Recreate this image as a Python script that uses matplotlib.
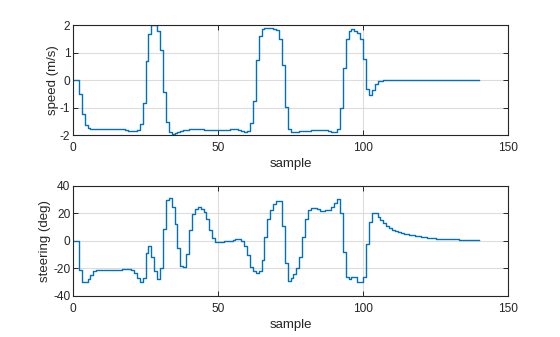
import numpy as np
import matplotlib
matplotlib.use('Agg')
import matplotlib.pyplot as plt

# speed (m/s), one value per sample 0..140
speed = [0, 0, -0.5, -1.25, -1.64, -1.76, -1.79, -1.79, -1.79, -1.79,          # 0-9
         -1.79, -1.79, -1.79, -1.79, -1.79, -1.79, -1.79, -1.79, -1.83, -1.85,  # 10-19
         -1.87, -1.87, -1.83, -1.6, -0.85, 0.68, 1.66, 2.0, 2.0, 1.8,           # 20-29
         1.09, -0.45, -1.54, -1.9, -1.96, -1.92, -1.88, -1.84, -1.82, -1.8,     # 30-39
         -1.79, -1.79, -1.79, -1.79, -1.79, -1.83, -1.83, -1.8, -1.8, -1.8,     # 40-49
         -1.8, -1.8, -1.8, -1.8, -1.79, -1.79, -1.79, -1.81, -1.85, -1.88,      # 50-59
         -1.85, -1.58, -0.75, 0.73, 1.6, 1.85, 1.88, 1.88, 1.88, 1.86,         # 60-69
         1.82, 1.49, 0.53, -0.98, -1.77, -1.9, -1.9, -1.9, -1.87, -1.85,       # 70-79
         -1.87, -1.87, -1.83, -1.83, -1.83, -1.83, -1.83, -1.83, -1.87, -1.9,  # 80-89
         -1.9, -1.77, -1.03, 0.45, 1.48, 1.8, 1.85, 1.8, 1.7, 1.5,             # 90-99
         0.76, -0.33, -0.56, -0.36, -0.16, -0.05, -0.02, -0.01, -0.01, -0.01,  # 100-109
         0, 0, 0, 0, 0, 0, 0, 0, 0, 0,                                          # 110-119
         0, 0, 0, 0, 0, 0, 0, 0, 0, 0,                                          # 120-129
         0, 0, 0, 0, 0, 0, 0, 0, 0, 0, 0]                                       # 130-140

# steering (deg)
steering = [0, 0, -21, -30, -30, -28, -24.5, -22, -21, -21,                    # 0-9
            -21, -21, -21, -21, -21, -21, -21, -20.5, -20.5, -20.5,            # 10-19
            -21, -23.5, -27, -30, -27, -9, -4, -12, -22, -28,                  # 20-29
            -20, 9, 30, 31, 24.5, 12, -5, -18, -19, -9.5,                      # 30-39
            8, 19.4, 23.5, 24.5, 23.3, 21.3, 15.8, 8, 2, -0.5,                 # 40-49
            -0.5, -0.5, 0, 0, 0, 0.5, 1.2, 1.2, 0, -3.4,                       # 50-59
            -10, -19, -22, -23.5, -22, -14, 2.7, 15.8, 22.3, 26.7,             # 60-69
            29.3, 28.8, 11, -16, -29, -27, -24, -19.6, -12, 2.7,               # 70-79
            15.8, 22.5, 23.8, 23.8, 23, 22, 22, 22.5, 22.5, 24.5,              # 80-89
            27.4, 30.3, 20, -7.8, -26.4, -27.4, -26, -26.4, -30, -30,          # 90-99
            -26, -2.4, 14, 20, 20, 17.7, 15.3, 13, 11, 9.2,                    # 100-109
            8.2, 7.3, 6.5, 5.6, 4.8, 4.8, 4.1, 4.1, 3.4, 3.4,                  # 110-119
            2.7, 2.7, 1.9, 1.9, 1.9, 1.3, 1.3, 1.3, 1.3, 1.3,                  # 120-129
            1.3, 1.3, 1.3, 0.4, 0.4, 0.4, 0.4, 0.4, 0.4, 0.4, 0.4]             # 130-140

sample = np.arange(len(speed))

plt.rcParams['font.family'] = ['Liberation Sans', 'DejaVu Sans']
plt.rcParams['axes.unicode_minus'] = False

fig = plt.figure(figsize=(5.6, 3.37), dpi=100)
ax1 = fig.add_axes([0.1304, 0.5994, 0.7768, 0.3264])
ax2 = fig.add_axes([0.1304, 0.1217, 0.7768, 0.3264])

for ax, y, lim, ticks, lab, lx in [(ax1, speed, (-2, 2), [-2, -1, 0, 1, 2], 'speed (m/s)', -0.033),
                                   (ax2, steering, (-40, 40), [-40, -20, 0, 20, 40], 'steering (deg)', -0.05)]:
    ax.step(sample, y, where='post', color='#0072BD', lw=1.0)
    ax.set_xlim(0, 150)
    ax.set_ylim(*lim)
    ax.set_xticks([0, 50, 100, 150])
    ax.set_yticks(ticks)
    ax.grid(True, color='#dcdcdc', lw=0.8)
    ax.set_axisbelow(True)
    ax.tick_params(direction='in', length=3.5, width=0.7, top=True, right=True,
                   colors='#262626', labelcolor='#262626', labelsize=8.6)
    ax.tick_params(axis='x', pad=5)
    ax.tick_params(axis='y', pad=2)
    for s in ax.spines.values():
        s.set_color('#262626')
        s.set_linewidth(0.8)
    ax.set_xlabel('sample', color='#262626', fontsize=9.5, labelpad=3)
    ax.set_ylabel(lab, color='#262626', fontsize=9.5)
    ax.yaxis.set_label_coords(lx, 0.5)

fig.savefig('out.png', dpi=100)
